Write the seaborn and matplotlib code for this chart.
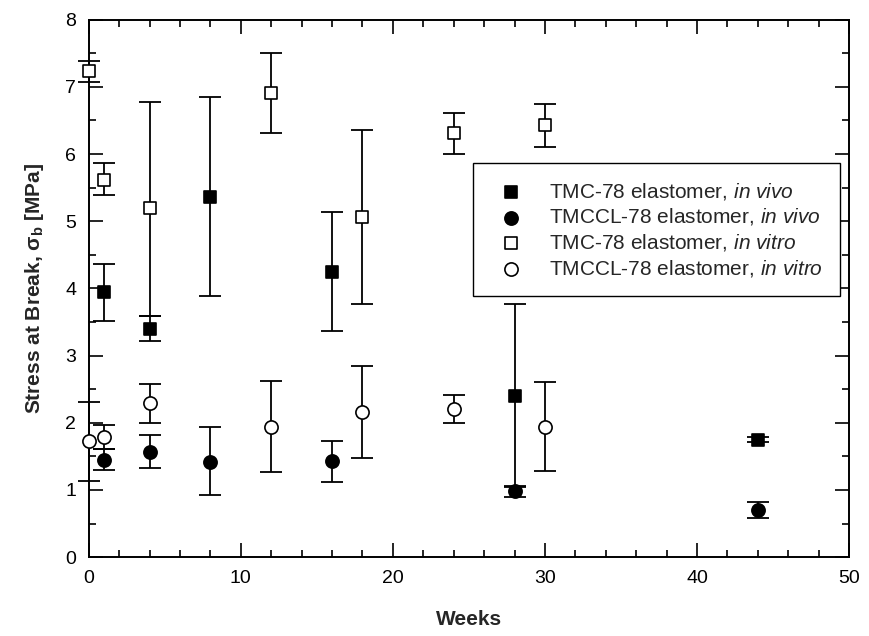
import numpy as np
import pandas as pd
import matplotlib
matplotlib.use("Agg")
import matplotlib.pyplot as plt
import seaborn as sns
from matplotlib.ticker import MultipleLocator

# ---- data ----
tmc_vivo_weeks = [1, 4, 8, 16, 28, 44]
tmc_vivo_mean = [3.94, 3.40, 5.36, 4.25, 2.40, 1.75]
tmc_vivo_lo = [3.52, 3.22, 3.88, 3.36, 1.04, 1.71]
tmc_vivo_hi = [4.37, 3.59, 6.85, 5.14, 3.77, 1.79]

tmccl_vivo_weeks = [1, 4, 8, 16, 28, 44]
tmccl_vivo_mean = [1.45, 1.57, 1.42, 1.43, 0.98, 0.70]
tmccl_vivo_lo = [1.29, 1.33, 0.92, 1.12, 0.90, 0.59]
tmccl_vivo_hi = [1.61, 1.82, 1.93, 1.73, 1.06, 0.82]

tmc_vitro_weeks = [0, 1, 4, 12, 18, 24, 30]
tmc_vitro_mean = [7.23, 5.62, 5.19, 6.91, 5.07, 6.31, 6.43]
tmc_vitro_lo = [7.07, 5.39, 3.59, 6.31, 3.77, 6.00, 6.10]
tmc_vitro_hi = [7.39, 5.87, 6.78, 7.50, 6.36, 6.61, 6.75]

tmccl_vitro_weeks = [0, 1, 4, 12, 18, 24, 30]
tmccl_vitro_mean = [1.73, 1.79, 2.29, 1.94, 2.16, 2.20, 1.94]
tmccl_vitro_lo = [1.14, 1.61, 2.00, 1.27, 1.48, 2.00, 1.28]
tmccl_vitro_hi = [2.31, 1.97, 2.57, 2.62, 2.84, 2.41, 2.61]

labels = [
    r"TMC-78 elastomer, $\mathit{in\ vivo}$",
    r"TMCCL-78 elastomer, $\mathit{in\ vivo}$",
    r"TMC-78 elastomer, $\mathit{in\ vitro}$",
    r"TMCCL-78 elastomer, $\mathit{in\ vitro}$",
]

series = [
    (tmc_vivo_weeks, tmc_vivo_mean, tmc_vivo_lo, tmc_vivo_hi, "s", "black", 8.5),
    (tmccl_vivo_weeks, tmccl_vivo_mean, tmccl_vivo_lo, tmccl_vivo_hi, "o", "black", 9.5),
    (tmc_vitro_weeks, tmc_vitro_mean, tmc_vitro_lo, tmc_vitro_hi, "s", "white", 8.5),
    (tmccl_vitro_weeks, tmccl_vitro_mean, tmccl_vitro_lo, tmccl_vitro_hi, "o", "white", 9.5),
]

sns.set_theme(style="ticks")
plt.rcParams["font.family"] = ["Liberation Sans", "DejaVu Sans"]
plt.rcParams["mathtext.fontset"] = "custom"
plt.rcParams["mathtext.rm"] = "Liberation Sans"
plt.rcParams["mathtext.it"] = "Liberation Sans:italic"
plt.rcParams["mathtext.bf"] = "Liberation Sans:bold"

fig = plt.figure(figsize=(8.7, 6.36), dpi=100)
ax = fig.add_axes([0.102, 0.124, 0.874, 0.845])

for (w, m, lo, hi, mk, fc, ms), lab in zip(series, labels):
    w = np.array(w, float); m = np.array(m, float)
    yerr = np.vstack([m - np.array(lo), np.array(hi) - m])
    ax.errorbar(w, m, yerr=yerr, fmt="none", ecolor="black", elinewidth=1.3,
                capsize=8, capthick=1.3, zorder=2, clip_on=False)
    df = pd.DataFrame({"Weeks": w, "Stress": m})
    sns.scatterplot(data=df, x="Weeks", y="Stress", marker=mk, s=ms**2,
                    color=fc, edgecolor="black", linewidth=1.2, ax=ax,
                    zorder=3, clip_on=False, label=lab)

ax.set_xlim(0, 50)
ax.set_ylim(0, 8)
ax.xaxis.set_major_locator(MultipleLocator(10))
ax.xaxis.set_minor_locator(MultipleLocator(2))
ax.yaxis.set_major_locator(MultipleLocator(1))
ax.yaxis.set_minor_locator(MultipleLocator(0.5))
ax.tick_params(which="both", direction="in", top=True, right=True, width=1.2,
               colors="black", labelsize=14)
ax.tick_params(which="major", length=10, pad=9)
ax.tick_params(which="minor", length=5)
for sp in ax.spines.values():
    sp.set_linewidth(1.4)
    sp.set_color("black")

ax.set_xlabel("Weeks", fontsize=15, fontweight="bold", labelpad=17)
ax.set_ylabel(r"Stress at Break, σ$_\mathbf{b}$ [MPa]", fontsize=15,
              fontweight="bold", labelpad=14)

leg = ax.legend(loc="upper left", bbox_to_anchor=(0.505, 0.733), fontsize=15,
                frameon=True, fancybox=False, edgecolor="black", framealpha=1,
                borderpad=0.85, labelspacing=0.22, handletextpad=0.8,
                handlelength=2.0, borderaxespad=0)
leg.get_frame().set_linewidth(1.0)

fig.savefig("out.png", dpi=100)
